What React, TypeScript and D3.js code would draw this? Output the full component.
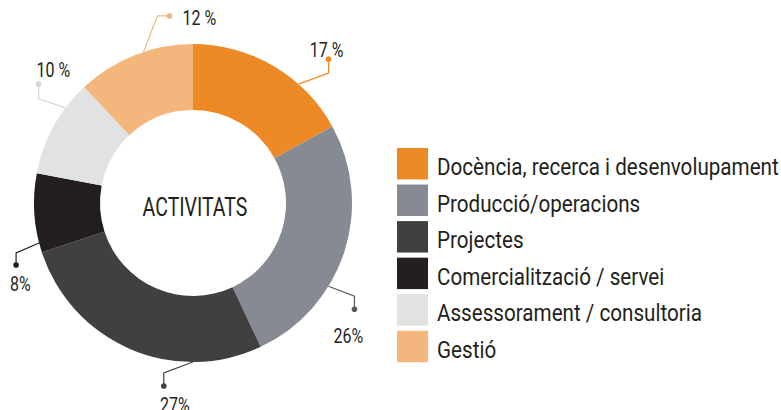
import React from 'react';
import * as d3 from 'd3';

const categories = [
  'Docència, recerca i desenvolupament',
  'Producció/operacions',
  'Projectes',
  'Comercialització / servei',
  'Assessorament / consultoria',
  'Gestió',
];
const values = [17, 26, 27, 8, 10, 12];
const valueLabels = ['17 %', '26%', '27%', '8%', '10 %', '12 %'];
const centerTitle = 'ACTIVITATS';

const COLORS = ['#ED8A26', '#868A93', '#404040', '#231F20', '#E1E2E4', '#F3B67C'];
const LEADER_COLORS = ['#ED8A26', '#58595B', '#404040', '#231F20', '#D6D7D9', '#F3B67C'];

// leader layout: where on the slice the line starts (0..1 of its span),
// elbow offset, then the last leg and where the text sits from the dot
const LEADERS = [
  { at: 0.68, ex: 30, ey: -11, lx: 0, ly: -14, tx: -2, ty: -2, anchor: 'middle' },
  { at: 0.645, ex: 26, ey: 10, lx: 0, ly: 13, tx: -6, ty: 34, anchor: 'middle' },
  { at: 0.26, ex: -29, ey: 11, lx: 0, ly: 13, tx: 11, ty: 26, anchor: 'middle' },
  { at: 0.12, ex: -23, ey: 10, lx: 0, ly: 12, tx: -6, ty: 26, anchor: 'start' },
  { at: 0.72, ex: -27, ey: -9, lx: 0, ly: -15, tx: -2, ty: -7, anchor: 'start' },
  { at: 0.58, ex: 14, ey: -36, lx: 12, ly: 0, tx: 13, ty: 9, anchor: 'start' },
];

const W = 781;
const H = 410;
const cx = 193;
const cy = 203;
const outerR = 159;
const innerR = 93;
const FONT = 'Roboto, sans-serif';
const SQUEEZE = 0.8;
const LEGEND_SQUEEZE = 0.86;

const App = () => {
  const pie = d3.pie<number>().sort(null).value(d => d);
  const slices = pie(values);
  const arc = d3.arc<d3.PieArcDatum<number>>().innerRadius(innerR).outerRadius(outerR);

  const pt = (a: number, r: number) => [cx + r * Math.sin(a), cy - r * Math.cos(a)];

  const legendY = d3.scaleBand<number>()
    .domain(d3.range(categories.length))
    .range([148, 148 + 35.7 * categories.length])
    .paddingInner(0.14);

  return (
    <svg width={W} height={H} style={{ position: 'absolute', left: 0, top: 0, background: '#fff' }}>
      <g transform={`translate(${cx},${cy})`}>
        {slices.map((s, i) => (
          <path key={i} d={arc(s) || ''} fill={COLORS[i]} />
        ))}
      </g>

      {slices.map((s, i) => {
        const L = LEADERS[i];
        const a = s.startAngle + (s.endAngle - s.startAngle) * L.at;
        const [x0, y0] = pt(a, outerR);
        const x1 = x0 + L.ex;
        const y1 = y0 + L.ey;
        const x2 = x1 + L.lx;
        const y2 = y1 + L.ly;
        return (
          <g key={i}>
            <polyline
              points={`${x0},${y0} ${x1},${y1} ${x2},${y2}`}
              fill="none"
              stroke={LEADER_COLORS[i]}
              strokeWidth={1.2}
            />
            <circle cx={x2} cy={y2} r={2.8} fill={LEADER_COLORS[i]} />
            <text
              transform={`translate(${x2 + L.tx},${y2 + L.ty}) scale(${SQUEEZE},1)`}
              textAnchor={L.anchor}
              fontFamily={FONT}
              fontSize={20}
              fill="#231F20"
            >
              {valueLabels[i]}
            </text>
          </g>
        );
      })}

      <text
        transform={`translate(195,216) scale(0.78,1)`}
        textAnchor="middle"
        fontFamily={FONT}
        fontSize={25}
        fill="#231F20"
      >
        {centerTitle}
      </text>

      <g>
        {categories.map((c, i) => (
          <g key={c}>
            <rect x={397} y={legendY(i)} width={31} height={legendY.bandwidth()} fill={COLORS[i]} />
            <text
              transform={`translate(437,${(legendY(i) || 0) + 27}) scale(${LEGEND_SQUEEZE},1)`}
              fontFamily={FONT}
              fontSize={24}
              fill="#231F20"
            >
              {c}
            </text>
          </g>
        ))}
      </g>
    </svg>
  );
};

export default App;
